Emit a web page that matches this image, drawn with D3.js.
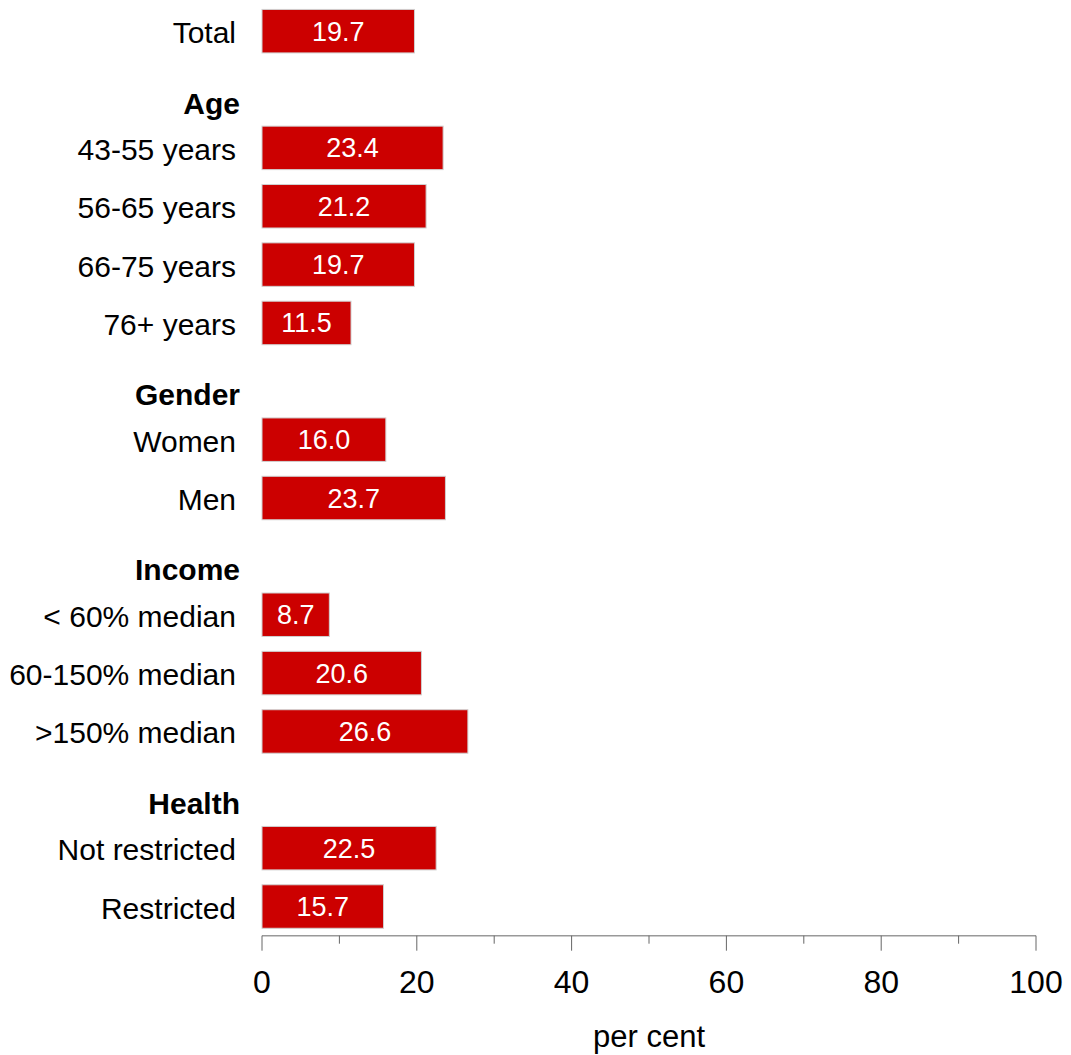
<!DOCTYPE html>
<html>
<head>
<meta charset="utf-8">
<script src="https://cdn.jsdelivr.net/npm/d3@7"></script>
<style>
  body { margin: 0; background: #fff; }
  svg { display: block; font-family: "Liberation Sans", Arial, sans-serif; }
</style>
</head>
<body>
<svg id="chart" width="1071" height="1055"></svg>
<script>
// rows top to bottom; group headers take a slot of their own
var categories = ['Total', 'Age', '43-55 years', '56-65 years', '66-75 years', '76+ years',
  'Gender', 'Women', 'Men', 'Income', '< 60% median', '60-150% median', '>150% median',
  'Health', 'Not restricted', 'Restricted'];
var values = [19.7, null, 23.4, 21.2, 19.7, 11.5, null, 16.0, 23.7, null, 8.7, 20.6, 26.6, null, 22.5, 15.7];
var groupHeaders = ['Age', 'Gender', 'Income', 'Health'];
var majorTicks = [0, 20, 40, 60, 80, 100];
var minorTicks = [10, 30, 50, 70, 90];
var axisTitle = 'per cent';

var svg = d3.select('#chart');

var x = d3.scaleLinear().domain([0, 100]).range([262, 1036]);
var y = d3.scaleBand().domain(categories).range([2, 935.7]).paddingInner(0.255).paddingOuter(0.1275);

var rows = categories.map(function(c, i) {
  return { name: c, value: values[i], header: groupHeaders.indexOf(c) >= 0 };
});

// bars
var bars = rows.filter(function(d) { return d.value !== null; });
svg.append('g').selectAll('rect').data(bars).enter().append('rect')
  .attr('x', x(0))
  .attr('y', function(d) { return y(d.name); })
  .attr('width', function(d) { return x(d.value) - x(0); })
  .attr('height', y.bandwidth())
  .attr('fill', '#cc0000')
  .attr('stroke', '#d0d0d0')
  .attr('stroke-width', 1);

// value labels inside the bars
svg.append('g').selectAll('text').data(bars).enter().append('text')
  .attr('x', function(d) { return (x(0) + x(d.value)) / 2; })
  .attr('y', function(d) { return y(d.name) + y.bandwidth() / 2 + 9.5; })
  .attr('text-anchor', 'middle')
  .attr('fill', '#fff')
  .attr('font-size', 27)
  .text(function(d) { return d.value.toFixed(1); });

// category labels and group headers
svg.append('g').selectAll('text').data(rows).enter().append('text')
  .attr('x', function(d) { return d.header ? 240 : 236; })
  .attr('y', function(d) {
    var c = y(d.name) + y.bandwidth() / 2;
    return d.header ? c + 24 : c + 12;
  })
  .attr('text-anchor', 'end')
  .attr('font-size', 30)
  .attr('font-weight', function(d) { return d.header ? 'bold' : 'normal'; })
  .attr('fill', '#000')
  .text(function(d) { return d.name; });

// x axis
var axisY = 935.7;
var gx = svg.append('g').attr('transform', 'translate(0,' + axisY + ')');
gx.append('line')
  .attr('x1', x(0)).attr('x2', x(100))
  .attr('stroke', '#999').attr('stroke-width', 1.5);
gx.selectAll('line.major').data(majorTicks).enter().append('line')
  .attr('class', 'major')
  .attr('x1', function(d) { return x(d); }).attr('x2', function(d) { return x(d); })
  .attr('y1', 0).attr('y2', 15)
  .attr('stroke', '#666').attr('stroke-width', 1);
gx.selectAll('line.minor').data(minorTicks).enter().append('line')
  .attr('class', 'minor')
  .attr('x1', function(d) { return x(d); }).attr('x2', function(d) { return x(d); })
  .attr('y1', 0).attr('y2', 8)
  .attr('stroke', '#666').attr('stroke-width', 1);
gx.selectAll('text').data(majorTicks).enter().append('text')
  .attr('x', function(d) { return x(d); })
  .attr('y', 57)
  .attr('text-anchor', 'middle')
  .attr('font-size', 32)
  .attr('fill', '#000')
  .text(function(d) { return d; });

svg.append('text')
  .attr('x', x(50))
  .attr('y', 1047)
  .attr('text-anchor', 'middle')
  .attr('font-size', 31)
  .attr('fill', '#000')
  .text(axisTitle);
</script>
</body>
</html>
